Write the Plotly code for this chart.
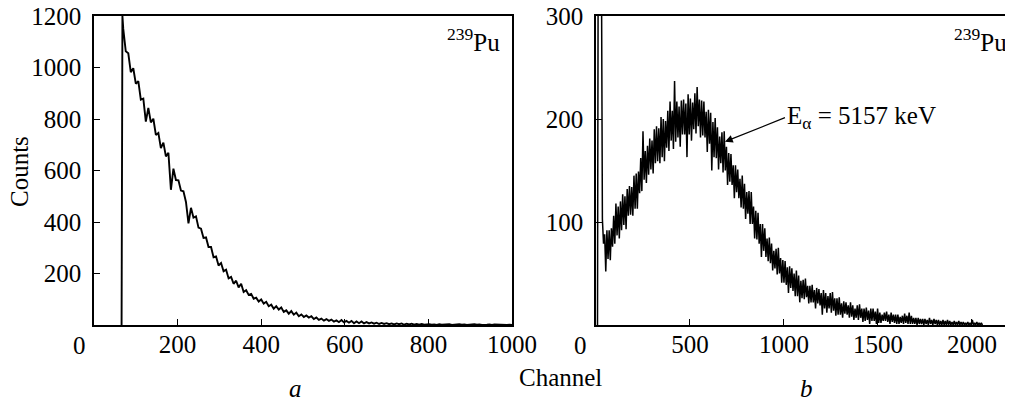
import plotly.graph_objects as go

# panel a: channel / counts
chan_a = [66, 68] + list(range(70, 1001, 6))
counts_a = [0, 1200,
    1150, 1063, 1055, 982, 997, 937, 947, 875, 879, 790,
    843, 787, 801, 738, 746, 687, 708, 655, 669, 525,
    607, 563, 562, 522, 519, 478, 395, 455, 417, 422,
    378, 374, 338, 340, 303, 303, 263, 266, 231, 241,
    209, 215, 181, 187, 160, 172, 146, 160, 128, 135,
    117, 121, 102, 106, 91, 99, 83, 90, 73, 79,
    63, 73, 60, 68, 51, 57, 44, 54, 40, 48,
    34, 41, 31, 37, 29, 34, 23, 29, 20, 25,
    17, 23, 16, 21, 13, 18, 11, 19, 10, 16,
    9, 16, 7, 14, 7, 14, 6, 11, 6, 10,
    5, 9, 4, 8, 4, 7, 3, 6, 2, 6,
    3, 6, 1, 5, 2, 5, 1, 4, 1, 4,
    1, 3,
    3, 1, 2, 0, 3, 1, 2, 1, 3, 0,
    2, 1, 3, 1, 2, 0, 2, 1, 3, 1,
    2, 0, 2, 1, 2, 0, 2, 1, 2, 0,
    1, 0, 1, 0]

# panel b: the noisy band, read as its upper and lower edge every 12 channels
spike_b_chan = [8, 12, 28]
spike_b_counts = [0, 400, 400]
chan_b = list(range(34, 2051, 12))
upper_b = [
    103, 88, 92, 92, 94, 106, 118, 115, 120, 127,
    125, 132, 135, 134, 145, 147, 149, 162, 188, 169,
    174, 181, 179, 190, 193, 191, 202, 200, 198, 208,
    217, 208, 237, 217, 212, 218, 219, 215, 224, 220,
    216, 225, 231, 219, 218, 217, 207, 209, 206, 197,
    201, 192, 183, 187, 188, 173, 167, 166, 155, 155,
    151, 142, 145, 137, 129, 130, 129, 115, 111, 109,
    98, 98, 94, 84, 85, 79, 72, 74, 75, 65,
    63, 62, 56, 57, 55, 50, 53, 48, 43, 44,
    45, 38, 38, 39, 34, 36, 35, 31, 34, 31,
    28, 31, 32, 26, 26, 27, 21, 23, 22, 19,
    22, 19, 16, 19, 20, 16, 16, 17, 14, 16,
    16, 13, 16, 12, 10, 12, 13, 10, 12, 10,
    10, 10, 8, 9, 11, 9, 12, 9, 7, 7,
    7, 6, 6, 6, 5, 7, 5, 6, 5, 5,
    4, 5, 4, 5, 4, 3, 4, 3, 4, 3,
    3, 2, 3, 2, 5, 2, 3, 2, 2]
lower_b = [
    79, 52, 64, 63, 76, 79, 87, 84, 92, 97,
    93, 106, 107, 106, 113, 113, 128, 130, 141, 138,
    146, 151, 147, 157, 159, 157, 163, 159, 172, 169,
    179, 171, 178, 182, 173, 185, 185, 163, 185, 179,
    190, 186, 193, 182, 184, 182, 168, 176, 150, 163,
    162, 151, 157, 148, 150, 136, 139, 136, 123, 129,
    123, 114, 113, 103, 108, 98, 98, 84, 83, 79,
    66, 72, 66, 62, 60, 53, 55, 49, 50, 41,
    41, 39, 31, 36, 33, 28, 28, 22, 26, 25,
    27, 21, 22, 22, 16, 21, 19, 10, 16, 12,
    16, 12, 14, 9, 10, 10, 7, 11, 10, 7,
    8, 5, 7, 5, 7, 3, 4, 5, 1, 4,
    4, 1, 2, 2, 4, 4, 3, 1, 3, 2,
    1, 1, 2, 1, 2, 1, 1, 1, 1, 0,
    1, 1, 0, 1, 0, 1, 0, 1, 0, 0,
    0, 0, 0, 0, 0, 0, 0, 0, 0, 0,
    0, 0, 0, 0, 0, 0, 0, 0, 0]

ticks_a_x = [200, 400, 600, 800, 1000]
ticks_a_y = [200, 400, 600, 800, 1000, 1200]
ticks_b_x = [500, 1000, 1500, 2000]
ticks_b_y = [100, 200, 300]

W, H = 1013, 402
FONT = "Liberation Serif"
OFF = 8  # the page puts the figure 8px in from the top-left corner


def px(x):
    return (x - OFF) / W


def py(y):
    return 1 - (y - OFF) / H


# zigzag between the upper and lower edge so the band is drawn as one noisy line
xb = list(spike_b_chan)
yb = list(spike_b_counts)
for c, u, l in zip(chan_b, upper_b, lower_b):
    xb += [c, c + 6]
    yb += [u, l]

fig = go.Figure()
fig.add_trace(go.Scatter(x=chan_a, y=counts_a, mode="lines",
                         line=dict(color="black", width=1.9),
                         xaxis="x", yaxis="y", showlegend=False))
fig.add_trace(go.Scatter(x=xb, y=yb, mode="lines",
                         line=dict(color="black", width=1.5),
                         xaxis="x2", yaxis="y2", showlegend=False))

axis = dict(showline=True, linecolor="black", linewidth=1.5,
            ticks="inside", ticklen=6, tickcolor="black", tickwidth=1.2,
            showgrid=False, zeroline=False, automargin=False,
            ticklabeloverflow="allow",
            tickfont=dict(family=FONT, size=25, color="black"))

fig.update_layout(
    width=W, height=H, autosize=False,
    margin=dict(l=0, r=0, t=0, b=0, pad=0),
    paper_bgcolor="white", plot_bgcolor="white",
    xaxis=dict(axis, domain=[px(94), px(512)], range=[0, 1000],
               tickvals=ticks_a_x, mirror=True, anchor="y",
               ticklabelstandoff=-4),
    yaxis=dict(axis, domain=[py(325), py(16)], range=[0, 1200],
               tickvals=ticks_a_y, mirror=True, anchor="x",
               ticklabelstandoff=6),
    xaxis2=dict(axis, domain=[px(596), 1], range=[0, 2261],
                tickvals=ticks_b_x, mirror=True, anchor="y2",
                ticklabelstandoff=-4),
    yaxis2=dict(axis, domain=[py(325), py(16)], range=[0, 300],
                tickvals=ticks_b_y, mirror=False, anchor="x2",
                ticklabelstandoff=6),
)

txt = dict(family=FONT, size=25, color="black")
notes = [
    dict(x=px(79), y=py(345), text="0"),
    dict(x=px(580), y=py(345), text="0"),
    dict(x=px(20), y=py(172), text="Counts", textangle=-90),
    dict(x=px(560), y=py(377), text="Channel"),
    dict(x=px(295), y=py(388), text="<i>a</i>"),
    dict(x=px(806), y=py(388), text="<i>b</i>"),
    dict(x=px(502), y=py(40), text="<sup>239</sup>Pu", xanchor="right"),
    dict(x=px(1009), y=py(40), text="<sup>239</sup>Pu", xanchor="right"),
]
for n in notes:
    base = dict(xref="paper", yref="paper", showarrow=False, font=txt,
                xanchor="center", yanchor="middle")
    base.update(n)
    fig.add_annotation(**base)

fig.add_annotation(x=686, y=178, xref="x2", yref="y2",
                   text="E<sub>α</sub> = 5157 keV", font=txt,
                   showarrow=True, arrowhead=2, arrowsize=1.3, arrowwidth=1.2,
                   arrowcolor="black", ax=60, ay=-24, xanchor="left")

fig.write_html("out.html")
